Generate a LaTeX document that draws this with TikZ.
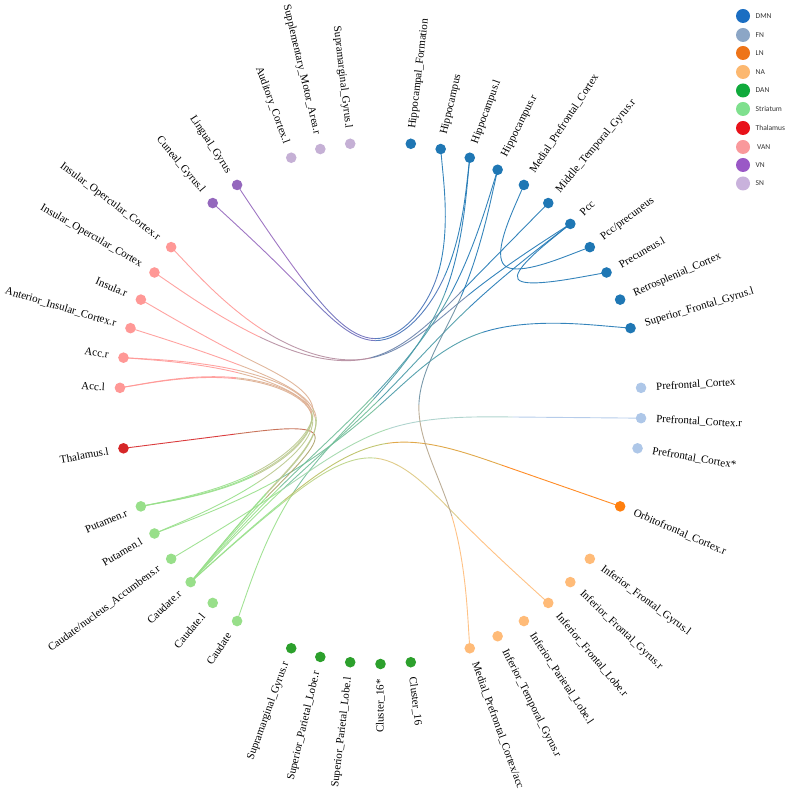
\documentclass[tikz,border=0pt]{standalone}
\usepackage{fontspec}
\setmainfont{Liberation Serif}
\newfontfamily\legfont{Carlito}
\usetikzlibrary{calc}
\pgfdeclarelayer{bg}
\pgfsetlayers{bg,main}
\definecolor{cDMN}{HTML}{1F77B4}
\definecolor{cFN}{HTML}{AEC7E8}
\definecolor{cLN}{HTML}{FF7F0E}
\definecolor{cNA}{HTML}{FFBB78}
\definecolor{cDAN}{HTML}{2CA02C}
\definecolor{cSTR}{HTML}{98DF8A}
\definecolor{cTHA}{HTML}{D62728}
\definecolor{cVAN}{HTML}{FF9896}
\definecolor{cVN}{HTML}{9467BD}
\definecolor{cSN}{HTML}{C5B0D5}
\definecolor{lDMN}{HTML}{1B6EC2}
\definecolor{lFN}{HTML}{8CA6C6}
\definecolor{lLN}{HTML}{EE7418}
\definecolor{lNA}{HTML}{FCB870}
\definecolor{lDAN}{HTML}{10AA3C}
\definecolor{lSTR}{HTML}{7FE08E}
\definecolor{lTHA}{HTML}{E8121A}
\definecolor{lVAN}{HTML}{F9999C}
\definecolor{lVN}{HTML}{9A58C6}
\definecolor{lSN}{HTML}{C9B2DC}
\tikzset{
  dot/.style={circle, inner sep=0pt, minimum size=10.6pt, draw=none},
  lab/.style={font=\fontsize{11}{13}\selectfont, inner sep=0pt, text=black},
  edge/.style={line width=0.9pt, line cap=butt, draw opacity=0.9},
  legdot/.style={circle, inner sep=0pt, minimum size=14pt, draw=none},
  legtxt/.style={font=\legfont\fontsize{7.5}{9}\selectfont, text=black!80, anchor=west, inner sep=0pt},
}
\newcommand\nd[4]{%
  \pgfmathsetmacro\nodeang{90-#2*20/3}%
  \node[dot, fill=#3] (#1) at (\nodeang:261pt) {};
  \ifdim #2pt<27pt
    \node[lab, anchor=west, rotate=\nodeang] (#1-t) at (\nodeang:276pt) {#4};
  \else
    \pgfmathsetmacro\nodeangb{\nodeang+180}%
    \node[lab, anchor=east, rotate=\nodeangb] (#1-t) at (\nodeang:276pt) {#4};
  \fi
}
\newcommand\bund[6]{%
  \coordinate (P0) at (#1.center);
  \coordinate (P4) at (#2.center);
  \coordinate (L1) at ($(P0)!0.25!(P4)$);
  \coordinate (L2) at ($(P0)!0.5!(P4)$);
  \coordinate (L3) at ($(P0)!0.75!(P4)$);
  \coordinate (Q1) at ($(#3)!0.15!(L1)$);
  \coordinate (Q2) at ($(O)!0.15!(L2)$);
  \coordinate (Q3) at ($(#4)!0.15!(L3)$);
  \coordinate (S0) at ($(P0)!0.16667!(Q1)$);
  \coordinate (C11) at ($(P0)!0.33333!(Q1)$);
  \coordinate (C12) at ($(P0)!0.66667!(Q1)$);
  \coordinate (E1) at ($0.16667*(P0)+0.66667*(Q1)+0.16667*(Q2)$);
  \coordinate (C21) at ($(Q1)!0.33333!(Q2)$);
  \coordinate (C22) at ($(Q1)!0.66667!(Q2)$);
  \coordinate (E2) at ($0.16667*(Q1)+0.66667*(Q2)+0.16667*(Q3)$);
  \coordinate (C31) at ($(Q2)!0.33333!(Q3)$);
  \coordinate (C32) at ($(Q2)!0.66667!(Q3)$);
  \coordinate (E3) at ($0.16667*(Q2)+0.66667*(Q3)+0.16667*(P4)$);
  \coordinate (C41) at ($(Q3)!0.33333!(P4)$);
  \coordinate (C42) at ($(Q3)!0.66667!(P4)$);
  \coordinate (E4) at ($(P4)!0.16667!(Q3)$);
  \draw[edge, draw=#5] (P0) -- (S0) .. controls (C11) and (C12) .. (E1);
  \draw[edge, draw=#5!67!#6] (E1) .. controls (C21) and (C22) .. (E2);
  \draw[edge, draw=#5!33!#6] (E2) .. controls (C31) and (C32) .. (E3);
  \draw[edge, draw=#6] (E3) .. controls (C41) and (C42) .. (E4) -- (P4);
}
\newcommand\bundsame[4]{%
  \coordinate (P0) at (#1.center);
  \coordinate (P4) at (#2.center);
  \coordinate (L2) at ($(P0)!0.5!(P4)$);
  \coordinate (G) at ($(#3)!0.15!(L2)$);
  \coordinate (S0) at ($(P0)!0.16667!(G)$);
  \coordinate (C11) at ($(P0)!0.33333!(G)$);
  \coordinate (C12) at ($(P0)!0.66667!(G)$);
  \coordinate (E1) at ($0.16667*(P0)+0.66667*(G)+0.16667*(P4)$);
  \coordinate (C21) at ($(G)!0.33333!(P4)$);
  \coordinate (C22) at ($(G)!0.66667!(P4)$);
  \coordinate (E2) at ($(P4)!0.16667!(G)$);
  \draw[edge, draw=#4] (P0) -- (S0) .. controls (C11) and (C12) .. (E1) .. controls (C21) and (C22) .. (E2) -- (P4);
}
\begin{document}
\begin{tikzpicture}[x=1pt,y=1pt]
\useasboundingbox (0,0) rectangle (788,795);
\begin{scope}[shift={(380.5,392)}]
\coordinate (O) at (0,0);
\coordinate (gDMN) at (50:130.5pt);
\coordinate (gFN) at (-3.333:130.5pt);
\coordinate (gLN) at (-23.333:130.5pt);
\coordinate (gNA) at (-53.333:130.5pt);
\coordinate (gDAN) at (-96.667:130.5pt);
\coordinate (gSTR) at (-140:130.5pt);
\coordinate (gTHA) at (-170:130.5pt);
\coordinate (gVAN) at (160:130.5pt);
\coordinate (gVN) at (126.667:130.5pt);
\coordinate (gSN) at (103.333:130.5pt);
% DMN
\nd{HipF}{1}{cDMN}{Hippocampal\_Formation}
\nd{Hip}{2}{cDMN}{Hippocampus}
\nd{HipL}{3}{cDMN}{Hippocampus.l}
\nd{HipR}{4}{cDMN}{Hippocampus.r}
\nd{MPC}{5}{cDMN}{Medial\_Prefrontal\_Cortex}
\nd{MTG}{6}{cDMN}{Middle\_Temporal\_Gyrus.r}
\nd{Pcc}{7}{cDMN}{Pcc}
\nd{PccP}{8}{cDMN}{Pcc/precuneus}
\nd{PrecL}{9}{cDMN}{Precuneus.l}
\nd{Retro}{10}{cDMN}{Retrosplenial\_Cortex}
\nd{SFG}{11}{cDMN}{Superior\_Frontal\_Gyrus.l}
% FN
\nd{PFC}{13}{cFN}{Prefrontal\_Cortex}
\nd{PFCr}{14}{cFN}{Prefrontal\_Cortex.r}
\nd{PFCs}{15}{cFN}{Prefrontal\_Cortex*}
% LN
\nd{OFC}{17}{cLN}{Orbitofrontal\_Cortex.r}
% NA
\nd{IFGl}{19}{cNA}{Inferior\_Frontal\_Gyrus.l}
\nd{IFGr}{20}{cNA}{Inferior\_Frontal\_Gyrus.r}
\nd{IFLr}{21}{cNA}{Inferior\_Frontal\_Lobe.r}
\nd{IPLl}{22}{cNA}{Inferior\_Parietal\_Lobe.l}
\nd{ITGr}{23}{cNA}{Inferior\_Temporal\_Gyrus.r}
\nd{MPCacc}{24}{cNA}{Medial\_Prefrontal\_Cortex/acc}
% DAN
\nd{Cl16}{26}{cDAN}{Cluster\_16}
\nd{Cl16s}{27}{cDAN}{Cluster\_16*}
\nd{SPLl}{28}{cDAN}{Superior\_Parietal\_Lobe.l}
\nd{SPLr}{29}{cDAN}{Superior\_Parietal\_Lobe.r}
\nd{SMGr}{30}{cDAN}{Supramarginal\_Gyrus.r}
% Striatum
\nd{Caud}{32}{cSTR}{Caudate}
\nd{CaudL}{33}{cSTR}{Caudate.l}
\nd{CaudR}{34}{cSTR}{Caudate.r}
\nd{CaudNA}{35}{cSTR}{Caudate/nucleus\_Accumbens.r}
\nd{PutL}{36}{cSTR}{Putamen.l}
\nd{PutR}{37}{cSTR}{Putamen.r}
% Thalamus
\nd{Thal}{39}{cTHA}{Thalamus.l}
% VAN
\nd{AccL}{41}{cVAN}{Acc.l}
\nd{AccR}{42}{cVAN}{Acc.r}
\nd{AIC}{43}{cVAN}{Anterior\_Insular\_Cortex.r}
\nd{Ins}{44}{cVAN}{Insula.r}
\nd{IOC}{45}{cVAN}{Insular\_Opercular\_Cortex}
\nd{IOCr}{46}{cVAN}{Insular\_Opercular\_Cortex.r}
% VN
\nd{Cun}{48}{cVN}{Cuneal\_Gyrus.l}
\nd{Lin}{49}{cVN}{Lingual\_Gyrus}
% SN
\nd{Aud}{51}{cSN}{Auditory\_Cortex.l}
\nd{SMA}{52}{cSN}{Supplementary\_Motor\_Area.r}
\nd{SMGl}{53}{cSN}{Supramarginal\_Gyrus.l}
\begin{pgfonlayer}{bg}
\bund{Lin}{Hip}{gVN}{gDMN}{cVN}{cDMN}
\bund{Cun}{HipL}{gVN}{gDMN}{cVN}{cDMN}
\bund{IOCr}{Pcc}{gVAN}{gDMN}{cVAN}{cDMN}
\bund{IOC}{MTG}{gVAN}{gDMN}{cVAN}{cDMN}
\bundsame{MPC}{PccP}{gDMN}{cDMN}
\bundsame{Pcc}{PrecL}{gDMN}{cDMN}
\bund{SFG}{PutL}{gDMN}{gSTR}{cDMN}{cSTR}
\bund{HipL}{Caud}{gDMN}{gSTR}{cDMN}{cSTR}
\bund{HipR}{CaudR}{gDMN}{gSTR}{cDMN}{cSTR}
\bund{Pcc}{CaudR}{gDMN}{gSTR}{cDMN}{cSTR}
\bund{PFCr}{CaudNA}{gFN}{gSTR}{cFN}{cSTR}
\bund{OFC}{CaudR}{gLN}{gSTR}{cLN}{cSTR}
\bund{IFLr}{CaudR}{gNA}{gSTR}{cNA}{cSTR}
\bund{MPCacc}{HipR}{gNA}{gDMN}{cNA}{cDMN}
\bund{Thal}{CaudR}{gTHA}{gSTR}{cTHA}{cSTR}
\bund{AccL}{PutR}{gVAN}{gSTR}{cVAN}{cSTR}
\bund{AccL}{PutL}{gVAN}{gSTR}{cVAN}{cSTR}
\bund{AccR}{PutR}{gVAN}{gSTR}{cVAN}{cSTR}
\bund{AccR}{CaudR}{gVAN}{gSTR}{cVAN}{cSTR}
\bund{AIC}{CaudR}{gVAN}{gSTR}{cVAN}{cSTR}
\bund{Ins}{PutR}{gVAN}{gSTR}{cVAN}{cSTR}
\end{pgfonlayer}
\end{scope}
% legend
\node[legdot, fill=lDMN] (kDMN) at (743,779) {};
\node[legtxt] at (755.5,779) {DMN};
\node[legdot, fill=lFN] (kFN) at (743,760) {};
\node[legtxt] at (755.5,760) {FN};
\node[legdot, fill=lLN] (kLN) at (743,742) {};
\node[legtxt] at (755.5,742) {LN};
\node[legdot, fill=lNA] (kNA) at (743,723) {};
\node[legtxt] at (755.5,723) {NA};
\node[legdot, fill=lDAN] (kDAN) at (743,704.5) {};
\node[legtxt] at (755.5,704.5) {DAN};
\node[legdot, fill=lSTR] (kSTR) at (743,686) {};
\node[legtxt] at (755.5,686) {Striatum};
\node[legdot, fill=lTHA] (kTHA) at (743,667) {};
\node[legtxt] at (755.5,667) {Thalamus};
\node[legdot, fill=lVAN] (kVAN) at (743,648) {};
\node[legtxt] at (757,648) {VAN};
\node[legdot, fill=lVN] (kVN) at (743,630) {};
\node[legtxt] at (755.5,630) {VN};
\node[legdot, fill=lSN] (kSN) at (743,611.5) {};
\node[legtxt] at (755.5,611.5) {SN};
\end{tikzpicture}
\end{document}
